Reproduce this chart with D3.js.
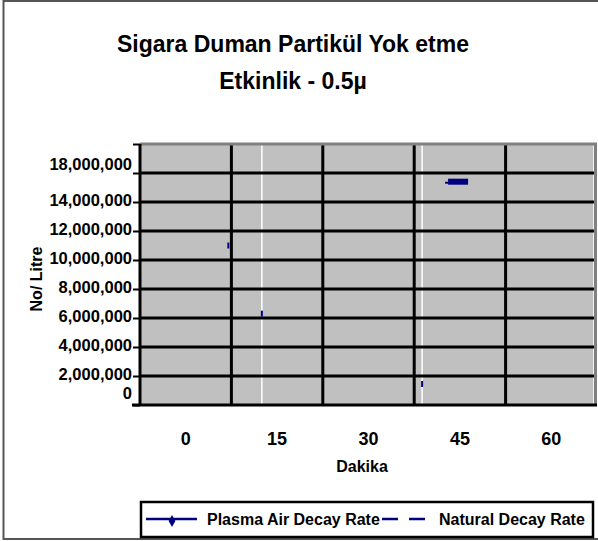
<!DOCTYPE html>
<meta charset="utf-8">
<script src="https://d3js.org/d3.v7.min.js"></script>
<style>
  body { margin: 0; background: #fff; }
  text { font-family: "Liberation Sans", Arial, sans-serif; font-weight: bold; fill: #000; }
</style>
<div id="my_dataviz"></div>
<script>

// categories on the x axis (minutes)
var minutes = [0, 15, 30, 45, 60]
var xTickLabels = ["0", "15", "30", "45", "60"]

// y ticks (No/ Litre) -- 16,000,000 has no label in the picture
var yTicks = [0, 2e6, 4e6, 6e6, 8e6, 10e6, 12e6, 14e6, 16e6, 18e6]
var yTickLabels = ["0", "2,000,000", "4,000,000", "6,000,000", "8,000,000",
                   "10,000,000", "12,000,000", "14,000,000", "", "18,000,000"]

// series values
var plasmaMinutes = [7, 12.5, 38.8]
var plasmaValues = [11.0e6, 6.3e6, 1.45e6]
var naturalMinutes = [44.7]
var naturalValues = [15.4e6]

// white drop lines seen in the plot area
var dropMinutes = [12.5, 38.8, 67]

var W = 598, H = 541
var margin = {top: 144, right: 1, bottom: 136, left: 140},
    width = W - margin.left - margin.right,
    height = H - margin.top - margin.bottom

var svg = d3.select("#my_dataviz")
  .append("svg")
    .attr("width", W)
    .attr("height", H)

// outer frame
svg.append("rect")
  .attr("x", 3.5).attr("y", 1)
  .attr("width", 600).attr("height", 538)
  .style("fill", "none")
  .style("stroke", "#555")
  .style("stroke-width", 2)

// title
svg.append("text")
  .attr("x", 293).attr("y", 52)
  .attr("text-anchor", "middle")
  .style("font-size", "23px")
  .text("Sigara Duman Partikül Yok etme")
svg.append("text")
  .attr("x", 293).attr("y", 89)
  .attr("text-anchor", "middle")
  .style("font-size", "23px")
  .text("Etkinlik - 0.5µ")

var g = svg.append("g")
  .attr("transform", "translate(" + margin.left + "," + margin.top + ")")

// scales
var xBand = d3.scaleBand()
  .domain(minutes)
  .range([0, width])
  .padding(0)
var step = xBand.step()
var x = d3.scaleLinear()
  .domain([0, 15])
  .range([step / 2, step / 2 + step])

var y = d3.scaleLinear()
  .domain([0, 18e6])
  .range([height, 0])

// plot background
g.append("rect")
  .attr("width", width).attr("height", height)
  .style("fill", "#c0c0c0")

// white drop lines
g.selectAll("dropline")
  .data(dropMinutes)
  .enter()
  .append("line")
    .attr("x1", function(d){ return x(d) }).attr("x2", function(d){ return x(d) })
    .attr("y1", 0).attr("y2", height)
    .style("stroke", "#fff")
    .style("stroke-width", 1.5)

// category separators
g.selectAll("sep")
  .data(minutes.slice(1))
  .enter()
  .append("line")
    .attr("x1", function(d){ return xBand(d) }).attr("x2", function(d){ return xBand(d) })
    .attr("y1", 0).attr("y2", height)
    .style("stroke", "#000")
    .style("stroke-width", 3)

// horizontal grid lines
g.selectAll("grid")
  .data(yTicks.slice(1, -1))
  .enter()
  .append("line")
    .attr("x1", 0).attr("x2", width)
    .attr("y1", function(d){ return y(d) }).attr("y2", function(d){ return y(d) })
    .style("stroke", "#000")
    .style("stroke-width", 3)

// top and right border of plot
g.append("line")
  .attr("x1", 0).attr("x2", width).attr("y1", 0).attr("y2", 0)
  .style("stroke", "#808080").style("stroke-width", 3)
g.append("line")
  .attr("x1", width - 1.5).attr("x2", width - 1.5).attr("y1", 0).attr("y2", height)
  .style("stroke", "#808080").style("stroke-width", 3)

// Plasma Air marks
g.selectAll("plasma")
  .data(plasmaMinutes)
  .enter()
  .append("rect")
    .attr("x", function(d){ return x(d) - 1 })
    .attr("y", function(d, i){ return y(plasmaValues[i]) - 3 })
    .attr("width", 2)
    .attr("height", 6)
    .style("fill", "#000080")

// Natural marks
g.selectAll("natural")
  .data(naturalMinutes)
  .enter()
  .append("rect")
    .attr("x", function(d){ return x(d) - 10 })
    .attr("y", function(d, i){ return y(naturalValues[i]) - 3 })
    .attr("width", 20)
    .attr("height", 6)
    .style("fill", "#000080")
g.selectAll("naturaldash")
  .data(naturalMinutes)
  .enter()
  .append("rect")
    .attr("x", function(d){ return x(d) - 13 })
    .attr("y", function(d, i){ return y(naturalValues[i]) })
    .attr("width", 3)
    .attr("height", 2)
    .style("fill", "#000080")

// Y axis
var yAxis = g.append("g")
  .call(d3.axisLeft(y)
    .tickValues(yTicks)
    .tickFormat(function(d, i){ return yTickLabels[i] })
    .tickSize(7)
    .tickPadding(1))
yAxis.select(".domain").remove()
yAxis.selectAll(".tick line").style("stroke", "#000").style("stroke-width", 2)
yAxis.selectAll(".tick text")
  .style("font-size", "16.5px")
  .style("font-family", "'Liberation Sans', Arial, sans-serif")
  .style("font-weight", "bold")
  .attr("fill", "#000")
  .attr("dy", function(d){ return d === 18e6 ? "1.55em" : (d === 0 ? "-0.4em" : "0.2em") })
yAxis.append("line")
  .attr("x1", 0).attr("x2", 0).attr("y1", 0).attr("y2", height)
  .style("stroke", "#000").style("stroke-width", 3)

// X axis
var xAxis = g.append("g")
  .attr("transform", "translate(0," + height + ")")
  .call(d3.axisBottom(xBand)
    .tickFormat(function(d, i){ return xTickLabels[i] })
    .tickSize(0)
    .tickPadding(27))
xAxis.select(".domain").remove()
xAxis.selectAll(".tick text")
  .style("font-size", "18px")
  .style("font-family", "'Liberation Sans', Arial, sans-serif")
  .style("font-weight", "bold")
  .attr("fill", "#000")
xAxis.append("line")
  .attr("x1", -8).attr("x2", width).attr("y1", 0).attr("y2", 0)
  .style("stroke", "#000").style("stroke-width", 3)

// X axis label
svg.append("text")
  .attr("x", 362).attr("y", 472)
  .attr("text-anchor", "middle")
  .style("font-size", "16px")
  .text("Dakika")

// Y axis label
svg.append("text")
  .attr("transform", "translate(42,279) rotate(-90)")
  .attr("text-anchor", "middle")
  .style("font-size", "16px")
  .text("No/ Litre")

// legend
var legend = svg.append("g")
legend.append("rect")
  .attr("x", 141).attr("y", 502)
  .attr("width", 452).attr("height", 35)
  .style("fill", "#fff")
  .style("stroke", "#000")
  .style("stroke-width", 2.5)
legend.append("line")
  .attr("x1", 146).attr("x2", 197).attr("y1", 519).attr("y2", 519)
  .style("stroke", "#000080").style("stroke-width", 2.5)
legend.append("path")
  .attr("d", d3.symbol().type(d3.symbolDiamond).size(40))
  .attr("transform", "translate(172,521)")
  .style("fill", "#000080")
legend.append("text")
  .attr("x", 207).attr("y", 525)
  .style("font-size", "16px")
  .text("Plasma Air Decay Rate")
legend.append("line")
  .attr("x1", 382).attr("x2", 426).attr("y1", 519).attr("y2", 519)
  .style("stroke", "#000080").style("stroke-width", 2.5)
  .style("stroke-dasharray", "16,11")
legend.append("text")
  .attr("x", 439).attr("y", 525)
  .style("font-size", "16px")
  .text("Natural Decay Rate")

</script>
